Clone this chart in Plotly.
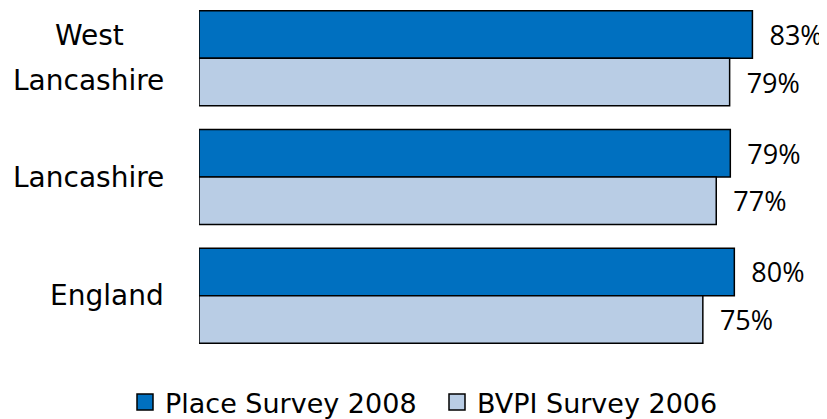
import plotly.graph_objects as go

categories = ["West Lancashire", "Lancashire", "England"]
category_lines = [["West", "Lancashire"], ["Lancashire"], ["England"]]
place_2008 = [82.6, 79.3, 79.9]
bvpi_2006 = [79.2, 77.2, 75.2]
series_names = ["Place Survey 2008", "BVPI Survey 2006"]
colors = ["#0070C0", "#B9CDE5"]

FONT = "DejaVu Sans"
VALUE_FONT = "Open Sans"
W, H = 827, 419
OFF = 8  # page body margin in the browser


def px(x):
    return (x - OFF) / W


def py(y):
    return 1 - (y - OFF) / H


fig = go.Figure()
for vals, name, col in zip([place_2008, bvpi_2006], series_names, colors):
    fig.add_trace(go.Bar(
        y=categories, x=vals, orientation="h", name=name, showlegend=False,
        marker=dict(color=col, line=dict(color="black", width=1.5)),
        text=[f"\u00a0\u00a0{round(v)}%" for v in vals],
        textposition="outside", constraintext="none",
        textfont=dict(family=VALUE_FONT, size=27, color="black"),
        cliponaxis=False,
    ))
for name, col in zip(series_names, colors):
    fig.add_trace(go.Scatter(
        x=[None], y=[None], mode="markers", name=name,
        marker=dict(symbol="square", size=16, color=col, line=dict(color="black", width=1.5)),
    ))

LINE_GAP = 45
for cat, lines in zip(categories, category_lines):
    n = len(lines)
    for i, line in enumerate(lines):
        last = i == n - 1
        fig.add_annotation(
            x=px(166) if last else px(89.5), xref="paper", y=cat, yref="y",
            text=line, showarrow=False,
            xanchor="right" if last else "center",
            yshift=((n - 1) / 2 - i) * LINE_GAP,
            font=dict(family=FONT, size=28, color="black"),
        )

# y axis: category centres at ref y = 58.4 + 119*i, plot area from page y=8 to 353
unit = 119.0
top_val = -(58.4 - OFF) / unit
bottom_val = top_val + (353 - OFF) / unit

fig.update_layout(
    width=W, height=H,
    margin=dict(l=0, r=0, t=0, b=0),
    paper_bgcolor="white", plot_bgcolor="white",
    barmode="group", bargap=0.2, bargroupgap=0,
    font=dict(family=FONT, size=27, color="black"),
    showlegend=True,
    legend=dict(orientation="h", x=px(125), xanchor="left", y=py(403), yanchor="middle",
                font=dict(family=FONT, size=27, color="black"), traceorder="normal",
                itemwidth=30, entrywidth=267, entrywidthmode="pixels",
                bgcolor="rgba(0,0,0,0)"),
    xaxis=dict(domain=[px(199), px(802)], range=[0, 90], visible=False, fixedrange=True),
    yaxis=dict(domain=[py(353), 1], range=[bottom_val, top_val], showticklabels=False,
               showgrid=False, zeroline=False, showline=False, ticks="", fixedrange=True),
)
fig.write_html("out.html")
